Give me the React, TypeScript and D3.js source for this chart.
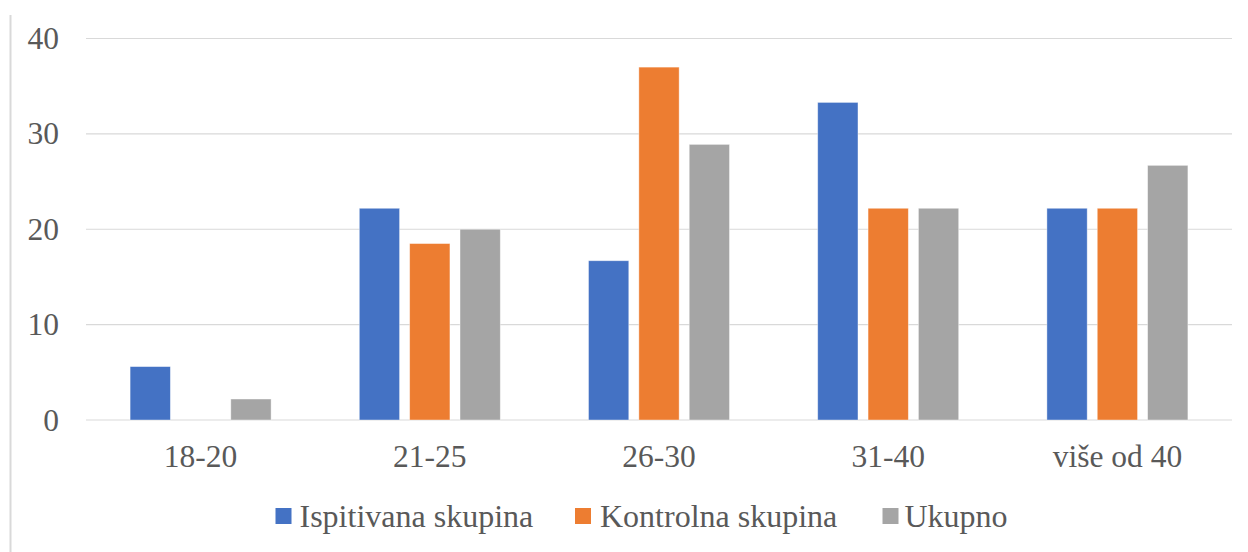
import React from "react";
import * as d3 from "d3";

const categories = ["18-20", "21-25", "26-30", "31-40", "više od 40"];
const seriesNames = ["Ispitivana skupina", "Kontrolna skupina", "Ukupno"];
const ispitivana = [5.6, 22.2, 16.7, 33.3, 22.2];
const kontrolna = [0, 18.5, 37.0, 22.2, 22.2];
const ukupno = [2.2, 20.0, 28.9, 22.2, 26.7];
const seriesValues = [ispitivana, kontrolna, ukupno];
const colors = ["#4472C4", "#ED7D31", "#A5A5A5"];
const yTicks = [0, 10, 20, 30, 40];

const W = 1248;
const H = 552;

export default function App() {
  const x = d3.scaleBand<string>().domain(categories).range([86, 1232]).padding(0);
  const y = d3.scaleLinear().domain([0, 40]).range([420, 38.5]);
  const groupW = 141;
  const textStyle: React.CSSProperties = { fontFamily: "Liberation Serif, DejaVu Serif, serif" };
  const textColor = "#595959";

  const legendItems = [
    { sq: 275.5, tx: 299.5 },
    { sq: 575, tx: 600 },
    { sq: 882.5, tx: 904.5 },
  ];

  return (
    <div style={{ position: "fixed", left: 0, top: 0 }}>
      <svg width={W} height={H} style={{ display: "block", background: "#fff" }}>
        <rect x={0} y={0} width={W} height={H} fill="#fff" />
        <line x1={10.5} x2={10.5} y1={15} y2={H} stroke="#d9d9d9" strokeWidth={2} />
        {yTicks.map((t) => (
          <g key={t}>
            <line x1={86} x2={1232} y1={y(t)} y2={y(t)} stroke="#d9d9d9" strokeWidth={1.2} />
            <text
              x={59}
              y={y(t) + 10.5}
              textAnchor="end"
              style={textStyle}
              fontSize={31.5}
              fill={textColor}
            >
              {t}
            </text>
          </g>
        ))}
        {categories.map((c, ci) => {
          const center = (x(c) as number) + x.bandwidth() / 2;
          const xs = d3
            .scaleBand<string>()
            .domain(seriesNames)
            .range([center - groupW / 2, center + groupW / 2])
            .paddingInner(0.2);
          return (
            <g key={c}>
              {seriesNames.map((s, si) => {
                const v = seriesValues[si][ci];
                if (!v) return null;
                return (
                  <rect
                    key={s}
                    x={xs(s) as number}
                    y={y(v)}
                    width={xs.bandwidth()}
                    height={y(0) - y(v)}
                    fill={colors[si]}
                    stroke="#ffffff"
                    strokeOpacity={0.5}
                    strokeWidth={0.8}
                  />
                );
              })}
              <text
                x={center}
                y={467}
                textAnchor="middle"
                style={textStyle}
                fontSize={31.5}
                fill={textColor}
              >
                {c}
              </text>
            </g>
          );
        })}
        {seriesNames.map((s, si) => (
          <g key={s}>
            <rect x={legendItems[si].sq} y={508} width={16} height={16} fill={colors[si]} />
            <text
              x={legendItems[si].tx}
              y={527}
              style={textStyle}
              fontSize={32}
              fill={textColor}
            >
              {s}
            </text>
          </g>
        ))}
      </svg>
    </div>
  );
}
